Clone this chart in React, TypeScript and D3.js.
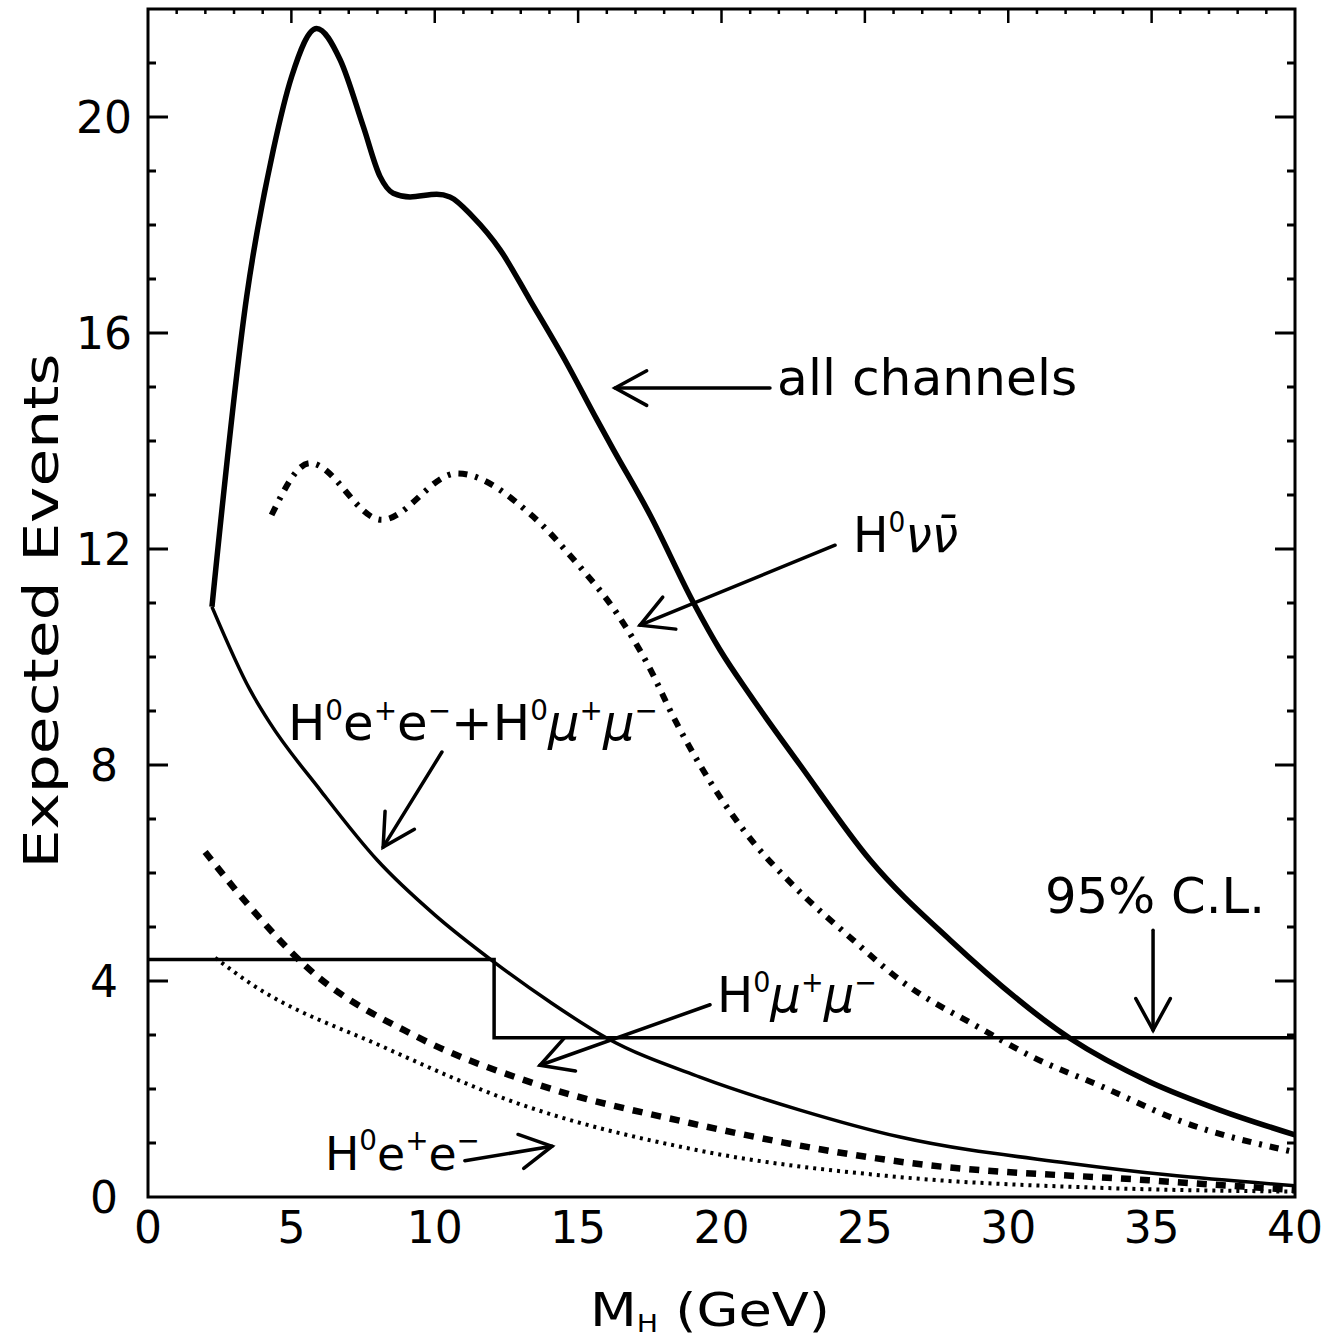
import React, { useEffect, useRef } from 'react';
import * as d3 from 'd3';

// all channels (thick solid)
const allX = [2.23, 3.44, 4.37, 5.01, 5.88, 6.7, 7.51, 8.09, 8.55, 9.14, 10.07, 10.53, 11.33, 12.28, 13.32, 14.54, 15.66, 16.22, 17.51, 19.01, 19.95, 20.99, 22.74, 25.18, 27.97, 32.15, 34.94, 37.38, 40];
const allY = [10.93, 16.67, 19.39, 20.75, 21.64, 21.06, 19.82, 18.9, 18.59, 18.52, 18.57, 18.52, 18.15, 17.54, 16.61, 15.5, 14.39, 13.85, 12.63, 11.02, 10.13, 9.3, 8.0, 6.24, 4.76, 2.94, 2.13, 1.61, 1.15];

// H0 nu nubar (dash-dot)
const nuX = [4.31, 5.65, 8.15, 10.77, 13.43, 14.95, 16.35, 17.44, 18.38, 19.25, 20.82, 22.56, 24.59, 26.22, 29.01, 30.86, 33.2, 36.09, 40];
const nuY = [12.63, 13.59, 12.54, 13.4, 12.6, 11.74, 10.81, 9.85, 8.83, 8.0, 6.76, 5.74, 4.76, 4.02, 3.13, 2.59, 2.06, 1.39, 0.83];

// H0e+e- + H0mu+mu- (solid)
const sumX = [2.23, 3.56, 4.25, 6.0, 7.99, 10.01, 12.07, 14.02, 16.01, 19.25, 22.74, 26.23, 32.05, 35.54, 40];
const sumY = [10.93, 9.39, 8.78, 7.54, 6.24, 5.22, 4.35, 3.61, 2.94, 2.22, 1.61, 1.11, 0.63, 0.41, 0.21];

// H0mu+mu- (dashed)
const muX = [1.99, 3.56, 5.53, 9.37, 13.43, 18.9, 26.57, 34.9, 40];
const muY = [6.39, 5.37, 4.26, 2.97, 2.11, 1.37, 0.63, 0.31, 0.13];

// H0e+e- (dotted)
const eeX = [2.34, 3.56, 8.2, 12.86, 19.13, 26.2, 33.2, 40];
const eeY = [4.43, 3.96, 2.78, 1.74, 0.87, 0.37, 0.17, 0.1];

// 95% C.L. step
const clX = [0, 12.07, 40];
const clY = [4.4, 2.95, 2.95];

const xTicks = [0, 5, 10, 15, 20, 25, 30, 35, 40];
const yTicks = [0, 4, 8, 12, 16, 20];

// arrows: [x1, y1, x2(tip), y2(tip)]
const arrows = [
  [21.69, 14.98, 16.29, 14.98],
  [23.96, 12.07, 17.16, 10.59],
  [10.25, 8.24, 8.2, 6.48],
  [19.6, 3.56, 13.67, 2.44],
  [35.05, 4.94, 35.05, 3.09],
  [11.05, 0.67, 14.09, 0.94],
];

const W = 1333;
const H = 1342;
const FONT = "'DejaVu Sans', sans-serif";

const App = () => {
  const ref = useRef<SVGSVGElement>(null);

  useEffect(() => {
    const svg = d3.select(ref.current);
    svg.selectAll('*').remove();

    const x = d3.scaleLinear().domain([0, 40]).range([148, 1295]);
    const y = d3.scaleLinear().domain([0, 22]).range([1197, 9]);

    const line = d3.line<[number, number]>()
      .x(d => x(d[0]))
      .y(d => y(d[1]))
      .curve(d3.curveMonotoneX);

    const zip = (a: number[], b: number[]) => a.map((v, i) => [v, b[i]] as [number, number]);

    // frame
    svg.append('rect')
      .attr('x', x(0)).attr('y', y(22))
      .attr('width', x(40) - x(0)).attr('height', y(0) - y(22))
      .attr('fill', 'none').attr('stroke', '#000').attr('stroke-width', 3);

    // left / right ticks
    const g = svg.append('g').attr('stroke', '#000').attr('stroke-width', 3);
    d3.range(1, 22).forEach(v => {
      const len = v % 4 === 0 ? 20 : 8;
      g.append('line').attr('x1', x(0)).attr('x2', x(0) + len).attr('y1', y(v)).attr('y2', y(v));
      g.append('line').attr('x1', x(40)).attr('x2', x(40) - len).attr('y1', y(v)).attr('y2', y(v));
    });
    // top ticks
    d3.range(1, 40).forEach(v => {
      const len = v % 5 === 0 ? 14 : 5;
      g.append('line').attr('x1', x(v)).attr('x2', x(v)).attr('y1', y(22)).attr('y2', y(22) + len)
        .attr('stroke-width', 2.5);
    });

    // tick labels
    svg.append('g').selectAll('text').data(xTicks).join('text')
      .attr('x', d => x(d)).attr('y', 1243)
      .attr('text-anchor', 'middle')
      .style('font-family', FONT).style('font-size', '44px')
      .text(d => d);
    svg.append('g').selectAll('text').data(yTicks).join('text')
      .attr('x', 104).attr('y', d => y(d) + 16)
      .attr('text-anchor', 'middle')
      .style('font-family', FONT).style('font-size', '44px')
      .text(d => d);

    // axis titles
    svg.append('text')
      .attr('transform', `translate(58,${(y(0) + y(22)) / 2 + 8}) rotate(-90)`)
      .attr('text-anchor', 'middle')
      .style('font-family', FONT).style('font-size', '48px')
      .attr('textLength', 515).attr('lengthAdjust', 'spacingAndGlyphs')
      .text('Expected Events');
    const xt = svg.append('text')
      .attr('x', 590).attr('y', 1326)
      .attr('textLength', 240).attr('lengthAdjust', 'spacingAndGlyphs')
      .style('font-family', FONT).style('font-size', '46px');
    xt.append('tspan').text('M');
    xt.append('tspan').attr('dy', 6).style('font-size', '24px').text('H');
    xt.append('tspan').attr('dy', -6).text(' (GeV)');

    // curves
    svg.append('path').attr('d', line(zip(allX, allY)))
      .attr('fill', 'none').attr('stroke', '#000').attr('stroke-width', 5.5);
    svg.append('path').attr('d', line(zip(sumX, sumY)))
      .attr('fill', 'none').attr('stroke', '#000').attr('stroke-width', 3.5);
    svg.append('path').attr('d', line(zip(nuX, nuY)))
      .attr('fill', 'none').attr('stroke', '#000').attr('stroke-width', 6)
      .attr('stroke-dasharray', '9 8 3 8');
    svg.append('path').attr('d', line(zip(muX, muY)))
      .attr('fill', 'none').attr('stroke', '#000').attr('stroke-width', 6.5)
      .attr('stroke-dasharray', '10 9');
    svg.append('path').attr('d', line(zip(eeX, eeY)))
      .attr('fill', 'none').attr('stroke', '#000').attr('stroke-width', 4)
      .attr('stroke-dasharray', '3 5');

    const step = d3.line<[number, number]>()
      .x(d => x(d[0])).y(d => y(d[1])).curve(d3.curveStepAfter);
    svg.append('path').attr('d', step(zip(clX, clY)))
      .attr('fill', 'none').attr('stroke', '#000').attr('stroke-width', 3.5);

    // arrows
    const ag = svg.append('g').attr('stroke', '#000').attr('stroke-width', 3.5)
      .attr('fill', 'none').attr('stroke-linecap', 'round');
    arrows.forEach(([x1, y1, x2, y2]) => {
      const px1 = x(x1), py1 = y(y1), px2 = x(x2), py2 = y(y2);
      const ang = Math.atan2(py1 - py2, px1 - px2);
      const hl = 36, spread = 0.5;
      ag.append('line').attr('x1', px1).attr('y1', py1).attr('x2', px2).attr('y2', py2);
      ag.append('path').attr('d',
        `M${px2 + hl * Math.cos(ang + spread)},${py2 + hl * Math.sin(ang + spread)}` +
        `L${px2},${py2}L${px2 + hl * Math.cos(ang - spread)},${py2 + hl * Math.sin(ang - spread)}`);
    });

    // labels
    const lab = (vx: number, vy: number, len: number, size = 50) => svg.append('text')
      .attr('x', x(vx)).attr('y', y(vy))
      .attr('textLength', len).attr('lengthAdjust', 'spacingAndGlyphs')
      .style('font-family', FONT).style('font-size', `${size}px`);

    const sup = (t: any, s: string) => {
      t.append('tspan').attr('dy', -20).style('font-size', '28px').text(s);
    };
    const base = (t: any, s: string, italic = false) => {
      t.append('tspan').attr('dy', 20).style('font-style', italic ? 'italic' : 'normal').text(s);
    };

    lab(21.94, 14.85, 300).text('all channels');

    const t1 = lab(24.59, 11.94, 105);
    t1.append('tspan').text('H');
    sup(t1, '0');
    base(t1, 'νν\u0304', true);

    const t2 = lab(4.88, 8.46, 370);
    t2.append('tspan').text('H');
    sup(t2, '0');
    base(t2, 'e');
    sup(t2, '+');
    base(t2, 'e');
    sup(t2, '−');
    base(t2, '+H');
    sup(t2, '0');
    base(t2, 'μ', true);
    sup(t2, '+');
    base(t2, 'μ', true);
    sup(t2, '−');

    const t3 = lab(19.84, 3.43, 160);
    t3.append('tspan').text('H');
    sup(t3, '0');
    base(t3, 'μ', true);
    sup(t3, '+');
    base(t3, 'μ', true);
    sup(t3, '−');

    lab(31.28, 5.26, 220).text('95% C.L.');

    const t4 = lab(6.17, 0.5, 155, 46);
    t4.append('tspan').text('H');
    sup(t4, '0');
    base(t4, 'e');
    sup(t4, '+');
    base(t4, 'e');
    sup(t4, '−');
  }, []);

  return (
    <svg ref={ref} width={W} height={H}
      style={{ position: 'absolute', left: 0, top: 0, background: '#fff' }} />
  );
};

export default App;
